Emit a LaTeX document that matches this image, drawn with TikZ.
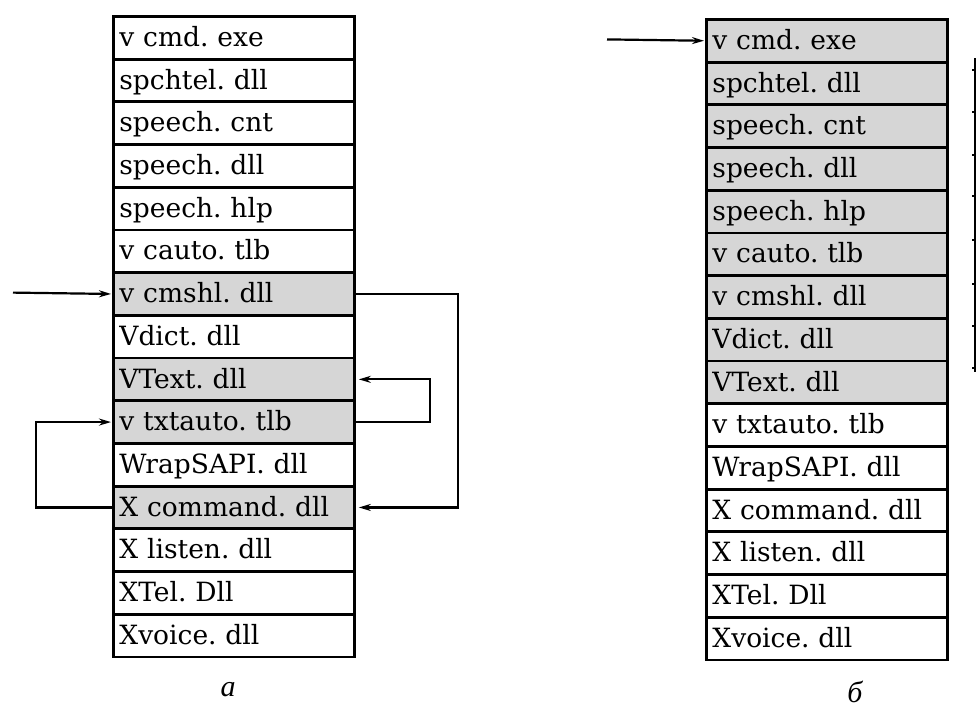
\documentclass[tikz,border=0pt]{standalone}
\usepackage{fontspec}
\setmainfont{DejaVu Serif}
\newfontfamily\capfont{Liberation Serif}
\usetikzlibrary{arrows.meta}
\definecolor{shade}{gray}{0.84}
\frenchspacing
\tikzset{
  x=1pt, y=1pt,
  cell/.style={draw=black, line width=2.8pt, rectangle, anchor=north west,
    minimum width=241pt, minimum height=42.7pt, text width=229pt,
    text height=22pt, text depth=4.7pt,
    inner xsep=6pt, inner ysep=0pt, align=left,
    font=\fontsize{26.5}{28}\selectfont},
  shaded/.style={fill=shade},
  plain/.style={fill=white},
  arr/.style={line width=2.2pt, -{Stealth[length=12pt,width=7pt]}},
  conn/.style={line width=2.2pt},
  caption/.style={font=\capfont\itshape\fontsize{30}{32}\selectfont}
}
\begin{document}
\begin{tikzpicture}
\useasboundingbox (0,0) rectangle (979,-724);
\fill[white] (0,0) rectangle (979,-724);
% left column
\foreach \i/\t/\s in {1/v cmd. exe/plain,2/spchtel. dll/plain,3/speech. cnt/plain,4/speech. dll/plain,5/speech. hlp/plain,6/v cauto. tlb/plain,7/v cmshl. dll/shaded,8/Vdict. dll/plain,9/VText. dll/shaded,10/v txtauto. tlb/shaded,11/WrapSAPI. dll/plain,12/X command. dll/shaded,13/X listen. dll/plain,14/XTel. Dll/plain,15/Xvoice. dll/plain}{
  \node[cell,\s] (L\i) at (112,{-15-(\i-1)*42.7}) {\t};
}
% right column
\foreach \i/\t/\s in {1/v cmd. exe/shaded,2/spchtel. dll/shaded,3/speech. cnt/shaded,4/speech. dll/shaded,5/speech. hlp/shaded,6/v cauto. tlb/shaded,7/v cmshl. dll/shaded,8/Vdict. dll/shaded,9/VText. dll/shaded,10/v txtauto. tlb/plain,11/WrapSAPI. dll/plain,12/X command. dll/plain,13/X listen. dll/plain,14/XTel. Dll/plain,15/Xvoice. dll/plain}{
  \node[cell,\s] (R\i) at (705,{-18-(\i-1)*42.7}) {\t};
}
% connectors, left
\coordinate (inL) at (13,-292.6);
\draw[arr] (inL) -- ([xshift=-1pt]L7.west);
\draw[arr] (L7.east) -- ++(102,0) |- ([xshift=3pt]L12.east);
\draw[arr] (L10.east) -- ++(74,0) |- ([xshift=3pt]L9.east);
\draw[arr] (L12.west) -- ++(-76,0) |- ([xshift=-1pt]L10.west);
% connector, right
\coordinate (inR) at (607,-39.4);
\draw[arr] (inR) -- ([xshift=-1pt]R1.west);
% cropped line at right edge
\coordinate (eT) at (975,-58);
\coordinate (eB) at (975,-372);
\draw[conn] (eT) -- (eB);
\foreach \yy in {70,112,155,196,240,284,326,368}{
  \draw[line width=2.2pt] (975,-\yy) -- ++(-3,0);
}
% captions
\node[caption] (ca) at (228,-690) {а};
\node[caption] (cb) at (855,-692) {б};
\end{tikzpicture}
\end{document}
